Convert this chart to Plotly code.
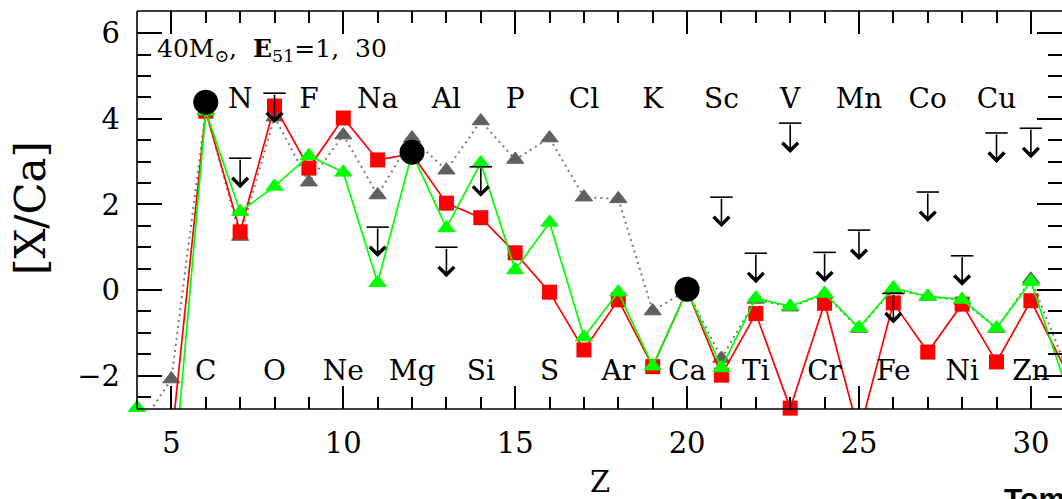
import plotly.graph_objects as go

# ---- data ----
Z_gray = list(range(4, 32))
gray_vals = [-3.3, -2.08, 4.2, 1.25, 4.04, 2.52, 3.62, 2.22, 3.55, 2.8, 3.95, 3.05,
             3.55, 2.17, 2.13, -0.49, 0.0, -1.6, -0.22, -0.4, -0.1, -0.9, 0.02,
             -0.15, -0.24, -0.9, 0.25, -1.75]

Z_red = list(range(5, 32))
red_vals = [-3.55, 4.18, 1.36, 4.3, 2.85, 4.02, 3.04, 3.18, 2.03, 1.69, 0.87, -0.05,
            -1.4, -0.23, -1.79, 0.0, -1.99, -0.55, -2.76, -0.31, -3.35, -0.3, -1.45,
            -0.33, -1.68, -0.25, -1.85]

Z_green = list(range(4, 32))
green_vals = [-2.75, -5.0, 4.18, 1.83, 2.42, 3.14, 2.75, 0.17, 3.2, 1.45, 2.97, 0.47,
              1.58, -1.1, -0.05, -1.78, 0.0, -1.82, -0.19, -0.38, -0.08, -0.88, 0.05,
              -0.15, -0.22, -0.89, 0.2, -2.2]

Z_obs = [6, 12, 20]
obs_vals = [4.39, 3.22, 0.02]

Z_lim = [7, 8, 11, 13, 14, 21, 22, 23, 24, 25, 26, 27, 28, 29, 30]
lim_vals = [3.08, 4.6, 1.47, 1.0, 2.88, 2.17, 0.86, 3.9, 0.88, 1.4, -0.08, 2.29,
            0.8, 3.67, 3.78]

Z_top = [7, 9, 11, 13, 15, 17, 19, 21, 23, 25, 27, 29]
top_labels = ["N", "F", "Na", "Al", "P", "Cl", "K", "Sc", "V", "Mn", "Co", "Cu"]
Z_bot = [6, 8, 10, 12, 14, 16, 18, 20, 22, 24, 26, 28, 30]
bot_labels = ["C", "O", "Ne", "Mg", "Si", "S", "Ar", "Ca", "Ti", "Cr", "Fe", "Ni", "Zn"]

x_ticks = [5, 10, 15, 20, 25, 30]
y_ticks = [-2, 0, 2, 4, 6]

# ---- style ----
FONT = "DejaVu Serif"
TOP_ROW_Y = 4.42
BOT_ROW_Y = -1.94
ARROW_LEN = 0.7

fig = go.Figure()

# gray dotted series
fig.add_trace(go.Scatter(x=Z_gray, y=gray_vals, mode="lines",
                         line=dict(color="#7a7a7a", width=2, dash="2px,4px"),
                         showlegend=False, hoverinfo="skip"))
fig.add_trace(go.Scatter(x=Z_gray, y=gray_vals, mode="markers", cliponaxis=False,
                         marker=dict(symbol="triangle-up", size=15, color="#606060",
                                     line=dict(color="#606060", width=1)),
                         showlegend=False))
# red series
fig.add_trace(go.Scatter(x=Z_red, y=red_vals, mode="lines",
                         line=dict(color="#ff0000", width=1.7),
                         showlegend=False, hoverinfo="skip"))
fig.add_trace(go.Scatter(x=Z_red, y=red_vals, mode="markers", cliponaxis=False,
                         marker=dict(symbol="square", size=15, color="#ff0000"),
                         showlegend=False))
# green series
fig.add_trace(go.Scatter(x=Z_green, y=green_vals, mode="lines",
                         line=dict(color="#00ff00", width=1.7),
                         showlegend=False, hoverinfo="skip"))
fig.add_trace(go.Scatter(x=Z_green, y=green_vals, mode="markers", cliponaxis=False,
                         marker=dict(symbol="triangle-up", size=15, color="#00ff00",
                                     line=dict(color="#00ff00", width=1)),
                         showlegend=False))
# black observed circles
fig.add_trace(go.Scatter(x=Z_obs, y=obs_vals, mode="markers", cliponaxis=False,
                         marker=dict(symbol="circle", size=25, color="black"),
                         showlegend=False))
# upper limit bars
fig.add_trace(go.Scatter(x=Z_lim, y=lim_vals, mode="markers", cliponaxis=False,
                         marker=dict(symbol="line-ew", size=16,
                                     line=dict(color="black", width=1.6)),
                         showlegend=False))
# element labels
fig.add_trace(go.Scatter(x=Z_top, y=[TOP_ROW_Y] * len(Z_top), mode="text",
                         text=top_labels, cliponaxis=False,
                         textfont=dict(family=FONT, size=28, color="black"),
                         showlegend=False, hoverinfo="skip"))
fig.add_trace(go.Scatter(x=Z_bot, y=[BOT_ROW_Y] * len(Z_bot), mode="text",
                         text=bot_labels, cliponaxis=False,
                         textfont=dict(family=FONT, size=28, color="black"),
                         showlegend=False, hoverinfo="skip"))

annotations = []
for z, v in zip(Z_lim, lim_vals):
    annotations.append(dict(x=z, y=v - ARROW_LEN, ax=z, ay=v, xref="x", yref="y",
                            axref="x", ayref="y", text="", showarrow=True,
                            arrowhead=4, arrowsize=1.9, arrowwidth=1.6,
                            arrowcolor="black"))

annotations += [
    dict(text="40M<sub>⊙</sub>,  <b>E</b><sub>51</sub>=1,  30", xref="paper", yref="paper",
         x=0.0195, y=0.902, xanchor="left", yanchor="middle", showarrow=False,
         font=dict(family=FONT, size=25, color="black")),
    dict(text="Z", xref="paper", yref="paper", x=0.5, y=-0.183, xanchor="center",
         yanchor="middle", showarrow=False, font=dict(family=FONT, size=29, color="black")),
    dict(text="[X/Ca]", xref="paper", yref="paper", x=-0.1157, y=0.505, xanchor="center",
         yanchor="middle", textangle=-90, showarrow=False,
         font=dict(family=FONT, size=42, color="black")),
    dict(text="<b>Tominaga</b>", xref="paper", yref="paper", x=0.935, y=-0.178,
         xanchor="left", yanchor="top", showarrow=False,
         font=dict(family="Liberation Sans", size=30, color="black")),
]

shapes = [
    dict(type="line", xref="paper", yref="paper", x0=0, x1=0, y0=0, y1=1,
         line=dict(color="black", width=1.6)),
    dict(type="line", xref="paper", yref="paper", x0=0, x1=1.01, y0=0, y1=0,
         line=dict(color="black", width=1.6)),
    dict(type="line", xref="paper", yref="paper", x0=0, x1=1.01, y0=1, y1=1,
         line=dict(color="black", width=1.6)),
]

fig.update_layout(
    width=1062, height=499,
    margin=dict(l=137, r=0, t=11, b=90),
    paper_bgcolor="white", plot_bgcolor="white",
    annotations=annotations, shapes=shapes,
    font=dict(family=FONT, color="black"),
)
fig.update_xaxes(range=[4, 30.905], showgrid=False, zeroline=False, showline=False,
                 mirror="allticks", ticks="inside", ticklen=23, tickwidth=1.6,
                 tickcolor="black", tickvals=x_ticks, ticklabelstandoff=14,
                 tickfont=dict(family=FONT, size=29, color="black"),
                 minor=dict(dtick=1, tick0=0, ticks="inside", ticklen=12,
                            tickwidth=1.6, tickcolor="black"))
fig.update_yaxes(range=[-2.78, 6.52], showgrid=False, zeroline=False, showline=False,
                 mirror="allticks", ticks="inside", ticklen=25, tickwidth=1.6,
                 tickcolor="black", tickvals=y_ticks, ticklabelstandoff=16,
                 tickfont=dict(family=FONT, size=29, color="black"),
                 minor=dict(dtick=0.5, tick0=0, ticks="inside", ticklen=14,
                            tickwidth=1.6, tickcolor="black"))

fig.write_html("out.html")
